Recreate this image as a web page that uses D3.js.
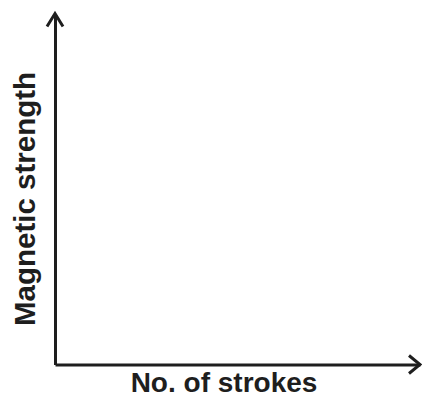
<!DOCTYPE html>
<html>
<head>
<meta charset="utf-8">
<script src="https://cdn.jsdelivr.net/npm/d3@7/dist/d3.min.js"></script>
<style>
  html, body { margin: 0; padding: 0; background: #fff; }
  svg { display: block; }
  .title { font-family: "Liberation Sans", Arial, Helvetica, sans-serif; font-weight: bold; }
  .caption { font-family: "Liberation Serif", "Times New Roman", serif; font-style: italic; }
</style>
</head>
<body>
<div id="chart"></div>
<script>
// Axis titles and the (empty) value ranges of the sketch graph
const xTitle = ["No. of strokes"];
const yTitle = ["Magnetic strength"];
const xDomain = [0, 1];
const yDomain = [0, 1];
const captionLine = ["a graph of magnetic strength against the number of strokes given to the bar."];

const W = 422, H = 397;
const origin = { x: 55, y: 364.5 };
const ink = "#1e1e1e";

const svg = d3.select("#chart").append("svg")
  .attr("width", W).attr("height", H);

const x = d3.scaleLinear().domain(xDomain).range([origin.x, 420]);
const y = d3.scaleLinear().domain(yDomain).range([origin.y, 13.5]);

// line of text running off the top edge, only its lowest strokes showing
svg.selectAll("text.caption").data(captionLine).join("text")
  .attr("class", "caption")
  .attr("x", -6).attr("y", -4.5)
  .attr("font-size", 19)
  .attr("fill", "#555")
  .text(d => d);

// x axis: a plain line without ticks
const gx = svg.append("g")
  .attr("transform", `translate(0,${origin.y})`)
  .call(d3.axisBottom(x).ticks(0).tickSizeOuter(0));
gx.select(".domain").attr("stroke", ink).attr("stroke-width", 3);

// y axis
const gy = svg.append("g")
  .attr("transform", `translate(${origin.x},0)`)
  .call(d3.axisLeft(y).ticks(0).tickSizeOuter(0));
gy.select(".domain").attr("stroke", ink).attr("stroke-width", 3);

// open arrowheads at the ends of both axes
const tipX = x(xDomain[1]), tipY = y(yDomain[1]);
const heads = [
  [[tipX - 11, origin.y - 9], [tipX, origin.y], [tipX - 11, origin.y + 9]],
  [[origin.x - 8, tipY + 13], [origin.x, tipY], [origin.x + 8, tipY + 13]]
];
svg.selectAll("path.head").data(heads).join("path")
  .attr("class", "head")
  .attr("d", d3.line())
  .attr("fill", "none")
  .attr("stroke", ink)
  .attr("stroke-width", 3)
  .attr("stroke-linejoin", "miter");

// axis titles
svg.selectAll("text.xtitle").data(xTitle).join("text")
  .attr("class", "title xtitle")
  .attr("x", 224)
  .attr("y", 392)
  .attr("text-anchor", "middle")
  .attr("font-size", 28)
  .attr("fill", ink)
  .text(d => d);

svg.selectAll("text.ytitle").data(yTitle).join("text")
  .attr("class", "title ytitle")
  .attr("transform", `translate(35,199) rotate(-90)`)
  .attr("text-anchor", "middle")
  .attr("font-size", 29.5)
  .attr("fill", ink)
  .text(d => d);
</script>
</body>
</html>
